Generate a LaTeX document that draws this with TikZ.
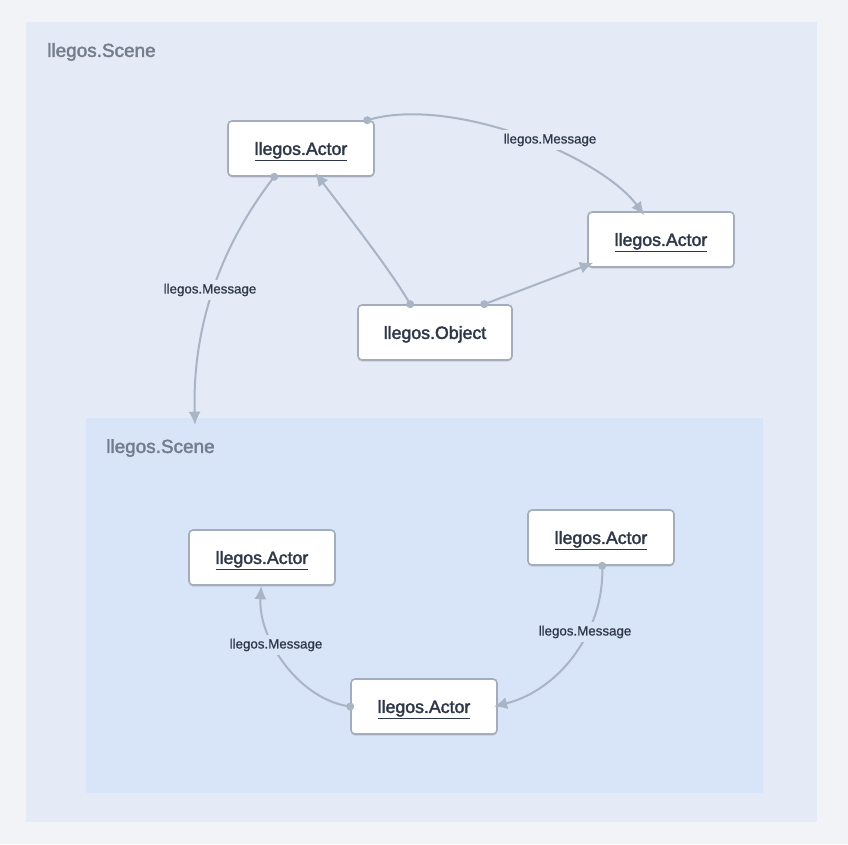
\documentclass[tikz,border=0pt]{standalone}
\usepackage{fontspec}
\setmainfont{Liberation Sans}
\newfontfamily\medfont[FakeBold=2]{Liberation Sans}
\newfontfamily\lightmed[FakeBold=0.8]{Liberation Sans}
\usetikzlibrary{arrows.meta,shadows,calc}
\definecolor{pagebg}{HTML}{F1F3F7}
\definecolor{outerbg}{HTML}{E4EAF6}
\definecolor{innerbg}{HTML}{D8E4F7}
\definecolor{edgecol}{HTML}{A9B4C4}
\definecolor{nodeborder}{HTML}{A3ADBB}
\definecolor{txt}{HTML}{2D3748}
\definecolor{scenetxt}{HTML}{737D8C}
\tikzset{
  objbox/.style={draw=nodeborder, line width=1.2pt, fill=white, rounded corners=3pt,
    minimum width=109.5pt, minimum height=41.25pt, inner sep=0pt,
    text height=10pt, text depth=0.4pt,
    text=txt, font=\medfont\fontsize{13.3}{15}\selectfont,
    drop shadow={shadow xshift=0pt, shadow yshift=-1.2pt, opacity=0.12, fill=black}},
  conn/.style={draw=edgecol, line width=1.5pt, -{Latex[length=10pt,width=9pt]}},
  dotend/.style={fill=edgecol, circle, inner sep=0pt, minimum size=6pt},
  msg/.style={text=txt, font=\lightmed\fontsize{10}{12}\selectfont, inner sep=2.5pt},
  scenetitle/.style={text=scenetxt, font=\medfont\fontsize{14.2}{16}\selectfont, anchor=west, inner sep=0pt}
}
\begin{document}
\begin{tikzpicture}[x=0.75pt,y=-0.75pt]
\fill[pagebg] (0,0) rectangle (848,844);
\useasboundingbox (0,0) rectangle (848,844);
% scenes
\fill[outerbg] (26,22) rectangle (817,822);
\node[scenetitle] (t1) at (47,52) {llegos.Scene};
\fill[innerbg] (86,418) rectangle (763,793);
\coordinate (innertop) at (195,425);
\node[scenetitle] (t2) at (106,448) {llegos.Scene};
% nodes
\node[objbox] (a1) at (301,148.5) {\underline{llegos.Actor}};
\node[objbox] (a2) at (661,239.5) {\underline{llegos.Actor}};
\node[objbox, minimum width=115.5pt] (obj) at (435,332.5) {llegos.Object};
\node[objbox] (b1) at (262,557.5) {\underline{llegos.Actor}};
\node[objbox] (b2) at (601,537.5) {\underline{llegos.Actor}};
\node[objbox] (b3) at (424,706.5) {\underline{llegos.Actor}};
% connector points
\coordinate (a1ne) at ($(a1.north west)+(140,0)$);
\coordinate (a1s) at ($(a1.south west)+(47,0)$);
\coordinate (a1in) at ($(a1.south west)+(88,-4)$);
\coordinate (a2in) at ($(a2.north west)+(57,4)$);
\coordinate (a2w) at ($(a2.south west)+(6,-5)$);
\coordinate (objl) at ($(obj.north west)+(53,0)$);
\coordinate (objr) at ($(obj.north west)+(127,0)$);
\coordinate (b1in) at ($(b1.south west)+(73,0)$);
\coordinate (b3w) at (b3.west);
\coordinate (b3e) at ($(b3.east)+(-4,0)$);
\coordinate (b2s) at ($(b2.south west)+(75,0)$);
% edges
\draw[conn] (a1ne) .. controls (450,95) and (600,155) .. (a2in);
\node[msg, fill=outerbg] (m1) at (550,140) {llegos.Message};
\draw[conn] (a1s) .. controls (225,240) and (192,320) .. (innertop);
\node[msg, fill=outerbg] (m2) at (210,290) {llegos.Message};
\draw[conn] (objl) .. controls (392,272) and (345,212) .. (a1in);
\draw[conn] (objr) -- (a2w);
\draw[conn] (b3w) .. controls (300,700) and (258,640) .. (b1in);
\node[msg, fill=innerbg] (m3) at (276,645) {llegos.Message};
\draw[conn] (b2s) .. controls (605,630) and (560,690) .. (b3e);
\node[msg, fill=innerbg] (m4) at (585,632) {llegos.Message};
% dots
\node[dotend] at (a1ne) {};
\node[dotend] at (a1s) {};
\node[dotend] at (objl) {};
\node[dotend] at (objr) {};
\node[dotend] at (b3w) {};
\node[dotend] at (b2s) {};
\end{tikzpicture}
\end{document}
